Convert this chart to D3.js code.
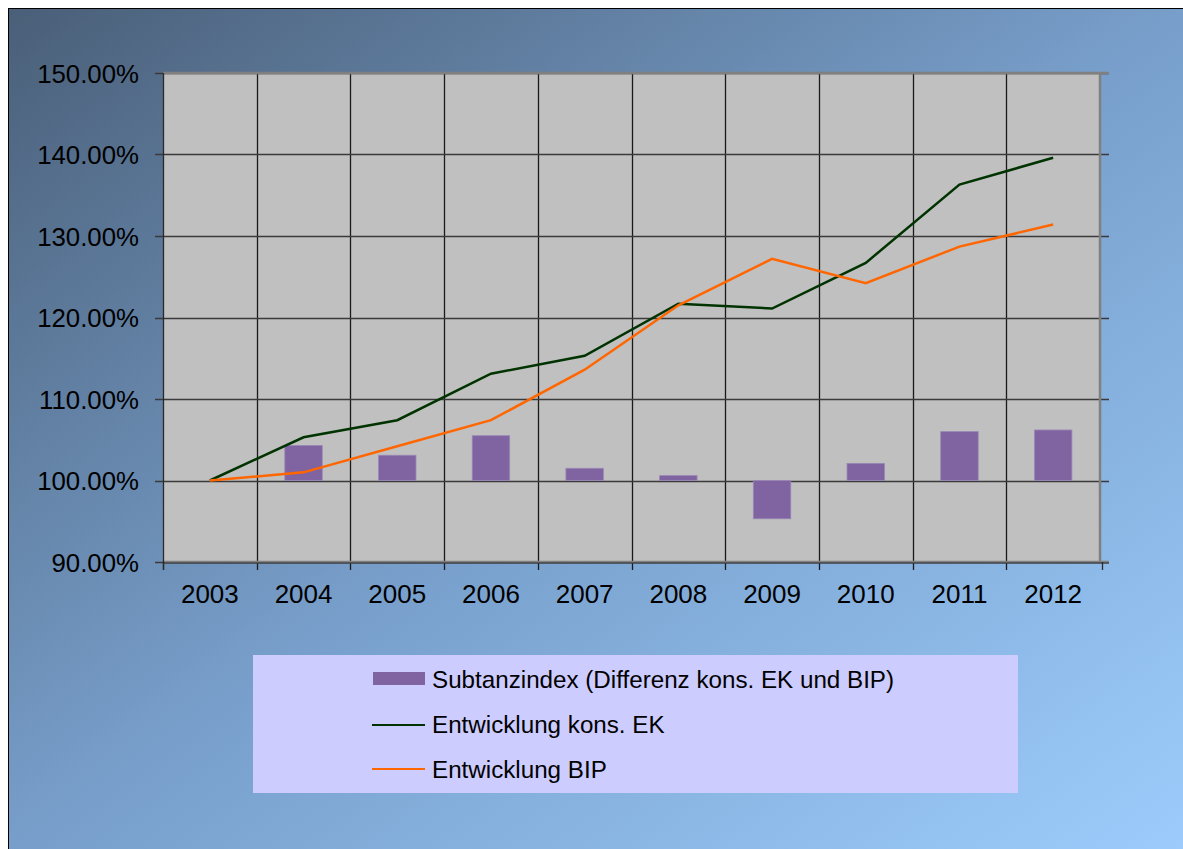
<!DOCTYPE html>
<html><head><meta charset="utf-8">
<script src="https://cdn.jsdelivr.net/npm/d3@7"></script>
<style>html,body{margin:0;padding:0;background:#fff;}svg{display:block;}</style>
</head><body>
<script>
const years = ["2003","2004","2005","2006","2007","2008","2009","2010","2011","2012"];
const substanzIndex = [null,104.3,103.1,105.5,101.5,100.6,95.3,102.1,106.0,106.2];
const entwicklungEK = [100,105.3,107.4,113.1,115.3,121.7,121.1,126.7,136.3,139.6];
const entwicklungBIP = [100,101.0,104.2,107.4,113.6,121.5,127.2,124.2,128.7,131.4];
const yTicks = [90,100,110,120,130,140,150];
const legendLabels = ["Subtanzindex (Differenz kons. EK und BIP)","Entwicklung kons. EK","Entwicklung BIP"];

const W=1183,H=849;
const svg=d3.select("body").append("svg").attr("width",W).attr("height",H);
const defs=svg.append("defs");
const g=defs.append("linearGradient").attr("id","bg").attr("x1","0").attr("y1","0").attr("x2","1").attr("y2","1");
g.append("stop").attr("offset","0").attr("stop-color","#4a5f78");
g.append("stop").attr("offset","0.5").attr("stop-color","#789fcb");
g.append("stop").attr("offset","1").attr("stop-color","#9dcdfd");
svg.append("rect").attr("x",0).attr("y",0).attr("width",W).attr("height",H).attr("fill","#fff");
svg.append("rect").attr("x",8.5).attr("y",8.5).attr("width",W).attr("height",H).attr("fill","url(#bg)").attr("stroke","#000").attr("stroke-width",1);

const L=163,R=1100,T=73,B=562;
const x=d3.scaleBand().domain(years).range([L,R]).padding(0);
const y=d3.scaleLinear().domain([90,150]).range([B,T]);

svg.append("rect").attr("x",L).attr("y",T).attr("width",R-L).attr("height",B-T).attr("fill","#c0c0c0");

const bounds=years.map(d=>x(d)).slice(1);
svg.append("g").selectAll("line").data(bounds).join("line")
  .attr("x1",d=>Math.round(d)+0.5).attr("x2",d=>Math.round(d)+0.5).attr("y1",T).attr("y2",B+8)
  .attr("stroke","#1a1a1a").attr("stroke-width",1.3);
svg.append("g").selectAll("line").data(yTicks).join("line")
  .attr("x1",L-8).attr("x2",R+9).attr("y1",d=>Math.round(y(d))+0.5).attr("y2",d=>Math.round(y(d))+0.5)
  .attr("stroke","#3a3a3a").attr("stroke-width",1.5);
svg.append("line").attr("x1",L).attr("x2",R+9).attr("y1",T).attr("y2",T).attr("stroke","#808080").attr("stroke-width",2.5);
svg.append("line").attr("x1",R).attr("x2",R).attr("y1",T).attr("y2",B).attr("stroke","#808080").attr("stroke-width",2.5);
svg.append("line").attr("x1",L).attr("x2",R+9).attr("y1",B).attr("y2",B).attr("stroke","#808080").attr("stroke-width",2.5);
svg.append("line").attr("x1",L).attr("x2",R+9).attr("y1",B+1).attr("y2",B+1).attr("stroke","#2a2a2a").attr("stroke-width",1);
svg.append("line").attr("x1",L+0.5).attr("x2",L+0.5).attr("y1",T).attr("y2",B+8).attr("stroke","#2a2a2a").attr("stroke-width",1.3);
[L,R+2].forEach(px=>svg.append("line").attr("x1",px+0.5).attr("x2",px+0.5).attr("y1",B).attr("y2",B+8).attr("stroke","#2a2a2a").attr("stroke-width",1.3));

const bw=x.bandwidth()*0.4;
svg.append("g").selectAll("rect").data(years.map((d,i)=>({y:d,v:substanzIndex[i]})).filter(d=>d.v!=null)).join("rect")
  .attr("x",d=>x(d.y)+x.bandwidth()/2-bw/2).attr("width",bw)
  .attr("y",d=>y(Math.max(100,d.v))).attr("height",d=>Math.abs(y(d.v)-y(100)))
  .attr("fill","#8064a2").attr("stroke","#9a88b6").attr("stroke-width",0.8);

const line=d3.line().x((d,i)=>x(years[i])+x.bandwidth()/2).y(d=>y(d));
svg.append("path").datum(entwicklungEK).attr("d",line).attr("fill","none").attr("stroke","#003300").attr("stroke-width",2.5);
svg.append("path").datum(entwicklungBIP).attr("d",line).attr("fill","none").attr("stroke","#ff6600").attr("stroke-width",2.5);

const FF="Liberation Sans, Arial, sans-serif";
svg.append("g").selectAll("text").data(yTicks).join("text")
  .attr("x",139).attr("y",d=>y(d)+9.5).attr("text-anchor","end")
  .attr("font-family",FF).attr("font-size",25.8).attr("fill","#000")
  .text(d=>d.toFixed(2)+"%");
svg.append("g").selectAll("text").data(years).join("text")
  .attr("x",d=>x(d)+x.bandwidth()/2).attr("y",603).attr("text-anchor","middle")
  .attr("font-family",FF).attr("font-size",26).attr("fill","#000")
  .text(d=>d);

svg.append("rect").attr("x",253).attr("y",655).attr("width",765).attr("height",138).attr("fill","#ccccff");
const lg=svg.append("g");
const rowsY=[680,725,770];
lg.append("rect").attr("x",373).attr("y",672).attr("width",52).attr("height",13).attr("fill","#8064a2");
lg.append("line").attr("x1",372).attr("x2",425).attr("y1",rowsY[1]).attr("y2",rowsY[1]).attr("stroke","#003300").attr("stroke-width",2.2);
lg.append("line").attr("x1",372).attr("x2",425).attr("y1",rowsY[2]-1).attr("y2",rowsY[2]-1).attr("stroke","#ff6600").attr("stroke-width",2.2);
lg.selectAll("text").data(legendLabels).join("text")
  .attr("x",432).attr("y",(d,i)=>rowsY[i]+8).attr("font-family",FF).attr("font-size",24.2).attr("fill","#000")
  .text(d=>d);
</script>
</body></html>
